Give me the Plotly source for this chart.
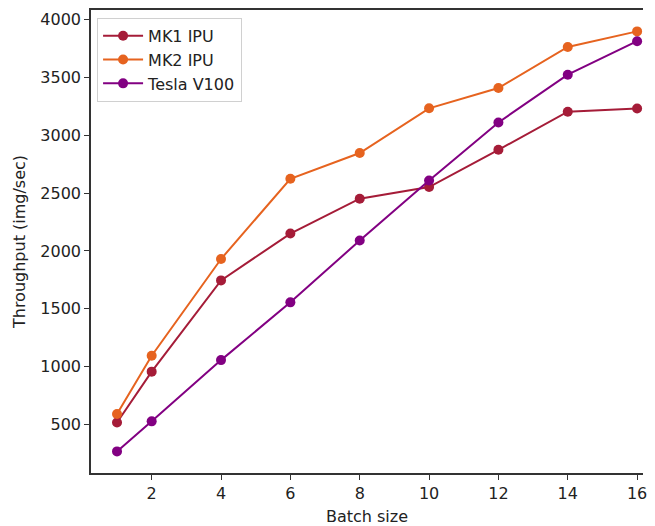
import plotly.graph_objects as go

batch_sizes = [1, 2, 4, 6, 8, 10, 12, 14, 16]
mk1_ipu = [515, 955, 1745, 2150, 2452, 2553, 2875, 3205, 3233]
mk2_ipu = [588, 1093, 1930, 2624, 2847, 3234, 3410, 3765, 3900]
tesla_v100 = [265, 525, 1055, 1555, 2090, 2610, 3112, 3525, 3815]

x_ticks = [2, 4, 6, 8, 10, 12, 14, 16]
y_ticks = [500, 1000, 1500, 2000, 2500, 3000, 3500, 4000]

series = [
    ("MK1 IPU", mk1_ipu, "#a51c38"),
    ("MK2 IPU", mk2_ipu, "#e6631f"),
    ("Tesla V100", tesla_v100, "#820082"),
]

fig = go.Figure()
for name, vals, color in series:
    fig.add_trace(go.Scatter(
        x=batch_sizes, y=vals, name=name, mode="lines+markers",
        line=dict(color=color, width=2),
        marker=dict(color=color, size=10),
    ))

font = "DejaVu Sans, Verdana, sans-serif"
fig.update_layout(
    width=639, height=518,
    margin=dict(l=83, r=0, t=1, b=53),
    paper_bgcolor="white", plot_bgcolor="white",
    font=dict(family=font, size=16, color="#222"),
    showlegend=True,
    legend=dict(
        x=0.011, y=0.983, xanchor="left", yanchor="top",
        bgcolor="rgba(255,255,255,0.9)", bordercolor="#d0d0d0", borderwidth=1,
        font=dict(family=font, size=16, color="#222"),
        tracegroupgap=0, itemwidth=40,
    ),
    xaxis=dict(
        range=[0.25, 16.17], tickvals=x_ticks, ticktext=[str(v) for v in x_ticks],
        showgrid=False, zeroline=False, showline=True, linecolor="#333", linewidth=1.5,
        mirror=True, ticks="outside", ticklen=5, tickcolor="#333", tickwidth=1.2,
        ticklabeloverflow="allow",
        title=dict(text="Batch size", standoff=9, font=dict(size=16)),
    ),
    yaxis=dict(
        range=[78, 4085], tickvals=y_ticks, ticktext=[str(v) for v in y_ticks],
        showgrid=False, zeroline=False, showline=True, linecolor="#333", linewidth=1.5,
        mirror=False, ticks="outside", ticklen=5, tickcolor="#333", tickwidth=1.2,
        title=dict(text="Throughput (img/sec)", standoff=11, font=dict(size=16)),
    ),
)

fig.write_html("out.html")
